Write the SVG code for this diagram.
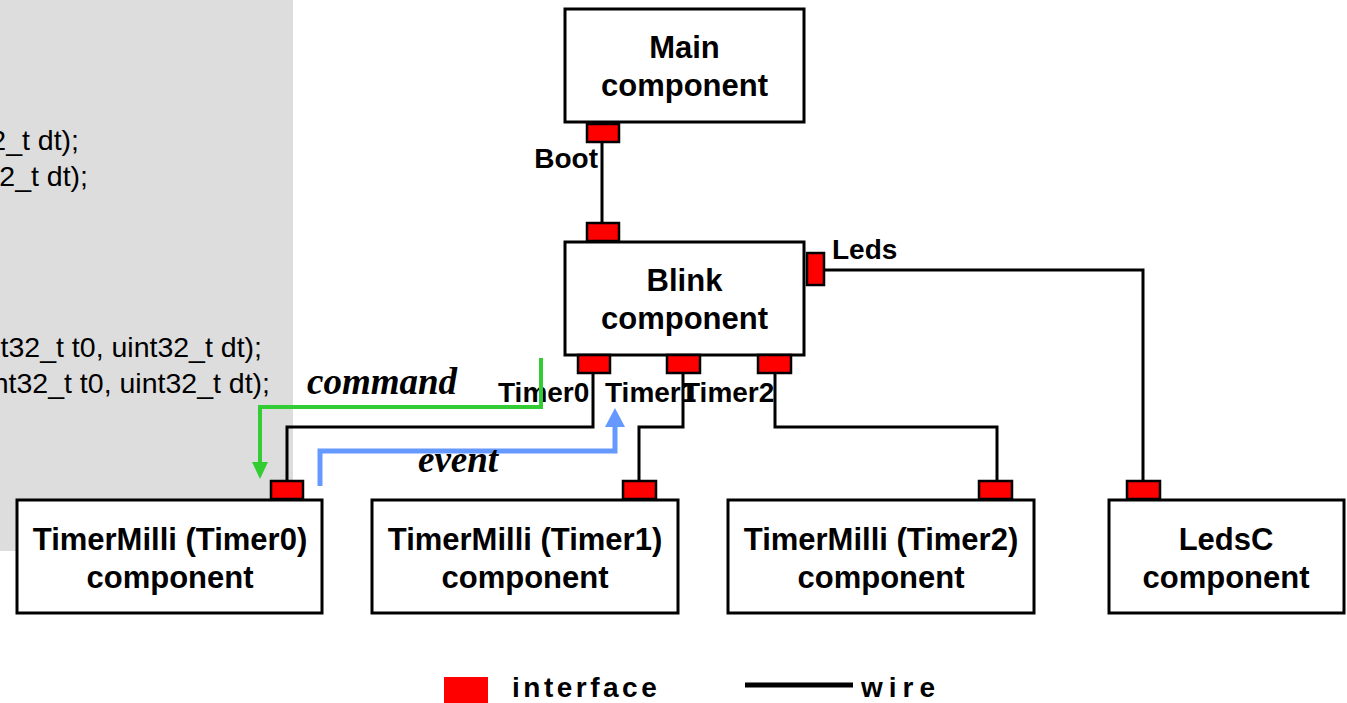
<svg xmlns="http://www.w3.org/2000/svg" width="1347" height="703" viewBox="0 0 1347 703">
<style>
.box{fill:#fff;stroke:#000;stroke-width:3}
.port{fill:#ff0000;stroke:#000;stroke-width:2.5}
.wire{fill:none;stroke:#000;stroke-width:3}
.lbl{font-family:"Liberation Sans",Arial,sans-serif;font-weight:bold;font-size:31px;text-anchor:middle;fill:#000}
.plbl{font-family:"Liberation Sans",Arial,sans-serif;font-weight:bold;font-size:28px;fill:#000}
.code{font-family:"Liberation Sans",Arial,sans-serif;font-size:28.5px;fill:#000;text-anchor:end}
.ann{font-family:"Liberation Serif","Times New Roman",serif;font-weight:bold;font-style:italic;font-size:37px;fill:#000}
.leg{font-family:"Liberation Sans",Arial,sans-serif;font-weight:bold;font-size:28px;letter-spacing:3.5px;fill:#000}
</style>
<rect x="0" y="0" width="293" height="551" fill="#dddddd"/>
<g id="code">
<text class="code" x="79" y="150">2_t dt);</text>
<text class="code" x="88" y="186">2_t dt);</text>
<text class="code" x="262" y="357">t32_t t0, uint32_t dt);</text>
<text class="code" x="270" y="393">nt32_t t0, uint32_t dt);</text>
</g>
<g id="port-labels">
<text class="plbl" x="598" y="168" text-anchor="end">Boot</text>
<text class="plbl" x="832" y="259">Leds</text>
<text class="plbl" x="498" y="402">Timer0</text>
<text class="plbl" x="605" y="402">Timer1</text>
<text class="plbl" x="683" y="402">Timer2</text>
</g>
<g id="connectors">
<line class="wire" x1="602" y1="143" x2="602" y2="223"/>
<polyline class="wire" points="824,270 1143,270 1143,481"/>
<polyline class="wire" points="593,373 593,427 287,427 287,481"/>
<polyline class="wire" points="683,373 683,427 639,427 639,481"/>
<polyline class="wire" points="775,373 775,427 997,427 997,481"/>
</g>
<g id="main">
<rect class="box" x="565" y="9" width="239" height="113"/>
<text class="lbl" x="684.5" y="58">Main</text>
<text class="lbl" x="684.5" y="96">component</text>
<rect class="port" x="587" y="124" width="32" height="18"/>
</g>
<g id="blink">
<rect class="box" x="565" y="242" width="239" height="113"/>
<text class="lbl" x="684.5" y="291">Blink</text>
<text class="lbl" x="684.5" y="329">component</text>
<rect class="port" x="587" y="223" width="32" height="18"/>
<rect class="port" x="807" y="253" width="17" height="32"/>
<rect class="port" x="578" y="355" width="32" height="18"/>
<rect class="port" x="667" y="355" width="33" height="18"/>
<rect class="port" x="758" y="355" width="33" height="18"/>
</g>
<g id="timer0">
<rect class="box" x="17" y="500" width="305" height="113"/>
<text class="lbl" x="170" y="550">TimerMilli (Timer0)</text>
<text class="lbl" x="170" y="588">component</text>
<rect class="port" x="271" y="481" width="32" height="18"/>
</g>
<g id="timer1">
<rect class="box" x="372" y="500" width="306" height="113"/>
<text class="lbl" x="525" y="550">TimerMilli (Timer1)</text>
<text class="lbl" x="525" y="588">component</text>
<rect class="port" x="623" y="481" width="33" height="18"/>
</g>
<g id="timer2">
<rect class="box" x="728" y="500" width="306" height="113"/>
<text class="lbl" x="881" y="550">TimerMilli (Timer2)</text>
<text class="lbl" x="881" y="588">component</text>
<rect class="port" x="979" y="481" width="33" height="18"/>
</g>
<g id="ledsc">
<rect class="box" x="1109" y="500" width="235" height="113"/>
<text class="lbl" x="1226" y="550">LedsC</text>
<text class="lbl" x="1226" y="588">component</text>
<rect class="port" x="1127" y="481" width="33" height="18"/>
</g>
<g id="flows">
<polyline points="541,358 541,407 260,407 260,463" fill="none" stroke="#33cc33" stroke-width="4"/>
<polygon points="252,462 268,462 260,479" fill="#33cc33"/>
<polyline points="320,486 320,451 615,451 615,425" fill="none" stroke="#6699ff" stroke-width="5"/>
<polygon points="605,427 625,427 615,408" fill="#6699ff"/>
<text class="ann" x="307" y="394">command</text>
<text class="ann" x="418" y="472">event</text>
</g>
<g id="legend">
<rect x="444" y="677" width="44" height="26" fill="#ff0000"/>
<text class="leg" x="512" y="697">interface</text>
<line x1="745" y1="685" x2="853" y2="685" stroke="#000" stroke-width="5"/>
<text class="leg" x="861" y="697" style="letter-spacing:6px">wire</text>
</g>
</svg>
